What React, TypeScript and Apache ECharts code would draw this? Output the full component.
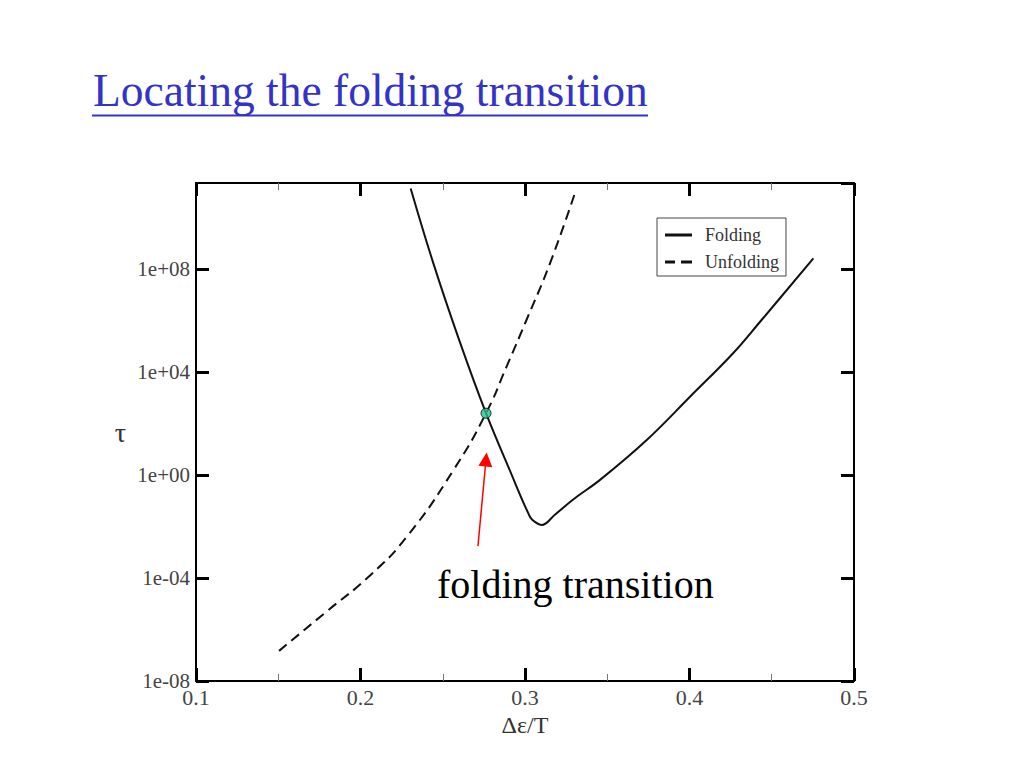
import React, { useEffect, useRef } from 'react';
import * as echarts from 'echarts';

// Δε/T values and log10(τ) values
const foldX = [0.2305, 0.2443, 0.2600, 0.2763, 0.2900, 0.3030, 0.3060, 0.3102, 0.3180, 0.3293, 0.3456, 0.3740, 0.4003, 0.4265, 0.4438, 0.4753];
const foldLogTau = [11.13, 8.22, 5.24, 2.40, 0.30, -1.62, -1.82, -1.94, -1.55, -0.95, -0.19, 1.36, 3.04, 4.73, 6.02, 8.41];

const unfoldX = [0.1505, 0.1794, 0.2058, 0.2281, 0.2565, 0.2763, 0.2888, 0.3009, 0.3152, 0.3304];
const unfoldLogTau = [-6.83, -5.30, -3.90, -2.40, 0.19, 2.40, 4.21, 6.02, 8.22, 10.96];

const transitionPoint = [0.2763, 2.40];
const arrowFrom = [0.2714, -2.76];
const arrowTo = [0.2763, 0.60];

const xTickValues = [0.1, 0.2, 0.3, 0.4, 0.5];
const yTickValues = [-8, -4, 0, 4, 8];
const yTickLabels = ['1e-08', '1e-04', '1e+00', '1e+04', '1e+08'];

const seriesNames = ['Folding', 'Unfolding'];

const SERIF = '"Liberation Serif", "Times New Roman", serif';

export default function App() {
  const ref = useRef<HTMLDivElement>(null);

  useEffect(() => {
    if (!ref.current) return;
    const chart = echarts.init(ref.current, undefined, { renderer: 'svg' });

    const fold = foldX.map((x, i) => [x, foldLogTau[i]]);
    const unfold = unfoldX.map((x, i) => [x, unfoldLogTau[i]]);

    const yLabel = (v: number) => {
      const idx = yTickValues.indexOf(Math.round(v));
      return idx >= 0 && Math.abs(v - Math.round(v)) < 1e-6 ? yTickLabels[idx] : '';
    };
    const xLabel = (v: number) => {
      const m = xTickValues.find((t) => Math.abs(t - v) < 1e-6);
      return m !== undefined ? String(m) : '';
    };

    const baseAxisLine = { show: true, onZero: false, lineStyle: { color: '#000', width: 2 } };
    const majorTick = { show: true, inside: true, length: 13, lineStyle: { color: '#000', width: 3 } };
    const minorTick = { show: true, splitNumber: 2, length: 7, lineStyle: { color: '#777', width: 1 } };

    chart.setOption({
      animation: false,
      backgroundColor: '#fff',
      grid: { left: 196, top: 183, right: 170, bottom: 87, containLabel: false },
      xAxis: [
        {
          type: 'value',
          position: 'bottom',
          min: 0.1,
          max: 0.5,
          interval: 0.1,
          name: 'Δε/T',
          nameLocation: 'middle',
          nameGap: 30,
          nameTextStyle: { fontFamily: SERIF, fontSize: 24, color: '#333' },
          axisLine: baseAxisLine,
          axisTick: majorTick,
          minorTick: minorTick,
          splitLine: { show: false },
          axisLabel: { show: true, margin: 5, formatter: xLabel, fontFamily: SERIF, fontSize: 22, color: '#444' },
        },
        {
          type: 'value',
          position: 'top',
          min: 0.1,
          max: 0.5,
          interval: 0.1,
          axisLine: baseAxisLine,
          axisTick: majorTick,
          minorTick: minorTick,
          splitLine: { show: false },
          axisLabel: { show: false },
        },
      ],
      yAxis: [
        {
          type: 'value',
          position: 'left',
          min: -8,
          max: 11.34,
          interval: 4,
          name: 'τ',
          nameLocation: 'middle',
          nameRotate: 0,
          nameGap: 70,
          nameTextStyle: { fontFamily: SERIF, fontSize: 28, color: '#333' },
          axisLine: baseAxisLine,
          axisTick: majorTick,
          splitLine: { show: false },
          axisLabel: { show: true, margin: 6, formatter: yLabel, showMaxLabel: false, fontFamily: SERIF, fontSize: 21, color: '#444' },
        },
        {
          type: 'value',
          position: 'right',
          min: -8,
          max: 11.34,
          interval: 4,
          axisLine: baseAxisLine,
          axisTick: majorTick,
          splitLine: { show: false },
          axisLabel: { show: false },
        },
      ],
      legend: {
        data: [
          { name: seriesNames[0], icon: 'path://M0 0H27V3H0Z' },
          { name: seriesNames[1], icon: 'path://M0 0H10V3H0Z M16 0H27V3H16Z' },
        ],
        orient: 'vertical',
        left: 657,
        top: 218,
        itemWidth: 27,
        itemHeight: 3,
        itemGap: 9,
        padding: [8, 7, 5, 8],
        borderColor: '#444',
        borderWidth: 1,
        borderRadius: 0,
        backgroundColor: '#fff',
        textStyle: { fontFamily: SERIF, fontSize: 18, color: '#333', padding: [0, 0, 0, 8] },
        selectedMode: false,
      },
      series: [
        {
          name: seriesNames[0],
          type: 'line',
          data: fold,
          symbol: 'none',
          smooth: 0.4,
          lineStyle: { color: '#111', width: 2, type: 'solid' },
          itemStyle: { color: '#111' },
          z: 3,
        },
        {
          name: seriesNames[1],
          type: 'line',
          data: unfold,
          symbol: 'none',
          smooth: 0.5,
          lineStyle: { color: '#111', width: 2, type: [10, 6] },
          itemStyle: { color: '#111' },
          z: 3,
        },
        {
          name: 'transition',
          type: 'scatter',
          data: [transitionPoint],
          symbol: 'circle',
          symbolSize: 10,
          itemStyle: { color: '#1fc08f', borderColor: '#000', borderWidth: 1 },
          z: 5,
          markLine: {
            silent: true,
            symbol: ['none', 'triangle'],
            symbolSize: [14, 14],
            lineStyle: { color: '#ff0000', width: 1.5, type: 'solid' },
            itemStyle: { color: '#ff0000' },
            label: { show: false },
            data: [[{ coord: arrowFrom }, { coord: arrowTo }]],
          },
        },
      ],
      graphic: [
        {
          type: 'text',
          left: 93,
          top: 67,
          style: { text: 'Locating the folding transition', font: `45.5px ${SERIF}`, fill: '#3333c8' },
        },
        {
          type: 'line',
          shape: { x1: 92, y1: 115.5, x2: 648, y2: 115.5 },
          style: { stroke: '#3333c8', lineWidth: 2 },
        },
        {
          type: 'text',
          left: 437,
          top: 564,
          style: { text: 'folding transition', font: `40px ${SERIF}`, fill: '#000' },
        },
      ],
    });

    return () => chart.dispose();
  }, []);

  return <div ref={ref} style={{ position: 'fixed', left: 0, top: 0, width: 1024, height: 768 }} />;
}
